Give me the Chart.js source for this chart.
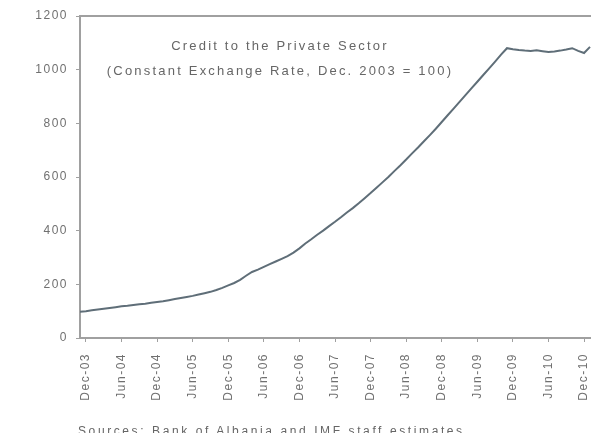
<!DOCTYPE html>
<html lang="en">
<head>
  <meta charset="UTF-8" />
  <title>Credit to the Private Sector</title>
  <script src="https://cdn.jsdelivr.net/npm/chart.js"></script>
  <style>
    body {
      margin: 0;
      background: #fff;
      font-family: Arial, "Liberation Sans", sans-serif;
    }
    .wrap {
      position: relative;
      width: 600px;
      height: 433px;
      overflow: hidden;
    }
    .note {
      position: absolute;
      left: 80px;
      width: 400px;
      text-align: center;
      color: #666;
      font-size: 13px;
      letter-spacing: 2.2px;
      white-space: nowrap;
    }
    .source {
      position: absolute;
      left: 78px;
      top: 424px;
      color: #666;
      font-size: 12px;
      letter-spacing: 2.6px;
      white-space: nowrap;
    }
  </style>
</head>
<body>
  <div class="wrap">
    <canvas id="creditChart" width="600" height="433"></canvas>
    <div class="note" style="top:38px">Credit to the Private Sector</div>
    <div class="note" style="top:63px">(Constant Exchange Rate, Dec. 2003 = 100)</div>
    <div class="source">Sources: Bank of Albania and IMF staff estimates.</div>
  </div>

  <script>
    // monthly, Nov-03 .. Jan-11
    const months = [
      'Nov-03', 'Dec-03',
      'Jan-04', 'Feb-04', 'Mar-04', 'Apr-04', 'May-04', 'Jun-04', 'Jul-04', 'Aug-04', 'Sep-04', 'Oct-04', 'Nov-04', 'Dec-04',
      'Jan-05', 'Feb-05', 'Mar-05', 'Apr-05', 'May-05', 'Jun-05', 'Jul-05', 'Aug-05', 'Sep-05', 'Oct-05', 'Nov-05', 'Dec-05',
      'Jan-06', 'Feb-06', 'Mar-06', 'Apr-06', 'May-06', 'Jun-06', 'Jul-06', 'Aug-06', 'Sep-06', 'Oct-06', 'Nov-06', 'Dec-06',
      'Jan-07', 'Feb-07', 'Mar-07', 'Apr-07', 'May-07', 'Jun-07', 'Jul-07', 'Aug-07', 'Sep-07', 'Oct-07', 'Nov-07', 'Dec-07',
      'Jan-08', 'Feb-08', 'Mar-08', 'Apr-08', 'May-08', 'Jun-08', 'Jul-08', 'Aug-08', 'Sep-08', 'Oct-08', 'Nov-08', 'Dec-08',
      'Jan-09', 'Feb-09', 'Mar-09', 'Apr-09', 'May-09', 'Jun-09', 'Jul-09', 'Aug-09', 'Sep-09', 'Oct-09', 'Nov-09', 'Dec-09',
      'Jan-10', 'Feb-10', 'Mar-10', 'Apr-10', 'May-10', 'Jun-10', 'Jul-10', 'Aug-10', 'Sep-10', 'Oct-10', 'Nov-10', 'Dec-10',
      'Jan-11'
    ];

    // only these show under the axis
    const shownLabels = [
      'Dec-03', 'Jun-04', 'Dec-04', 'Jun-05', 'Dec-05', 'Jun-06', 'Dec-06', 'Jun-07',
      'Dec-07', 'Jun-08', 'Dec-08', 'Jun-09', 'Dec-09', 'Jun-10', 'Dec-10'
    ];

    const credit = [
      98, 100, 103, 106, 109, 112, 115, 118, 120, 123,
      126, 128, 131, 134, 137, 141, 145, 149, 153, 157,
      162, 167, 172, 179, 187, 196, 205, 217, 232, 246,
      255, 265, 275, 285, 295, 305, 318, 334, 352, 368,
      385, 400, 417, 433, 450, 468, 484, 502, 521, 540,
      560, 580, 600, 622, 643, 665, 688, 710, 733, 756,
      780, 805, 830, 855, 880, 905, 930, 955, 980, 1005,
      1030, 1056, 1080, 1076, 1073, 1071, 1070, 1072, 1069, 1066,
      1068, 1071, 1075, 1080, 1070, 1062, 1085
    ];

    const yTicks = [0, 200, 400, 600, 800, 1000, 1200];

    const axisGray = '#a0a0a0';
    const textGray = '#707070';

    // spaced-out lettering like the original
    const spacing = {
      id: 'spacing',
      beforeLayout(chart) { chart.ctx.letterSpacing = '1.5px'; },
      beforeDraw(chart) { chart.ctx.letterSpacing = '1.5px'; }
    };

    new Chart(document.getElementById('creditChart'), {
      type: 'line',
      data: {
        labels: months,
        datasets: [{
          label: 'Credit to the Private Sector',
          data: credit,
          borderColor: '#5f6e78',
          borderWidth: 2,
          pointRadius: 0,
          tension: 0,
          fill: false
        }]
      },
      options: {
        responsive: false,
        animation: false,
        layout: { padding: { left: 0, top: 16, right: 10, bottom: 30 } },
        plugins: {
          legend: { display: false },
          tooltip: { enabled: false }
        },
        scales: {
          x: {
            offset: false,
            border: { color: axisGray, width: 2 },
            grid: {
              drawOnChartArea: false,
              tickLength: 4,
              color: ctx => shownLabels.includes(months[ctx.index]) ? axisGray : 'transparent'
            },
            ticks: {
              autoSkip: false,
              maxRotation: 90,
              minRotation: 90,
              padding: 11,
              color: textGray,
              font: { family: 'Arial', size: 12 },
              callback: (v, i) => shownLabels.includes(months[i]) ? months[i] : ''
            },
            afterFit: s => { s.height = 65; s.paddingLeft = 0; s.paddingRight = 0; }
          },
          xTop: {
            position: 'top',
            labels: months,
            border: { color: axisGray, width: 2 },
            grid: { display: false },
            ticks: { display: false },
            afterFit: s => { s.height = 0; s.paddingLeft = 0; s.paddingRight = 0; }
          },
          y: {
            min: 0,
            max: 1200,
            border: { color: axisGray, width: 2 },
            grid: { drawOnChartArea: false, tickLength: 4, color: axisGray },
            afterBuildTicks: s => { s.ticks = yTicks.map(v => ({ value: v })); },
            ticks: {
              padding: 8,
              color: textGray,
              font: { family: 'Arial', size: 12 },
              callback: v => String(v)
            },
            afterFit: s => { s.width = 80; }
          }
        }
      },
      plugins: [spacing]
    });
  </script>
</body>
</html>
